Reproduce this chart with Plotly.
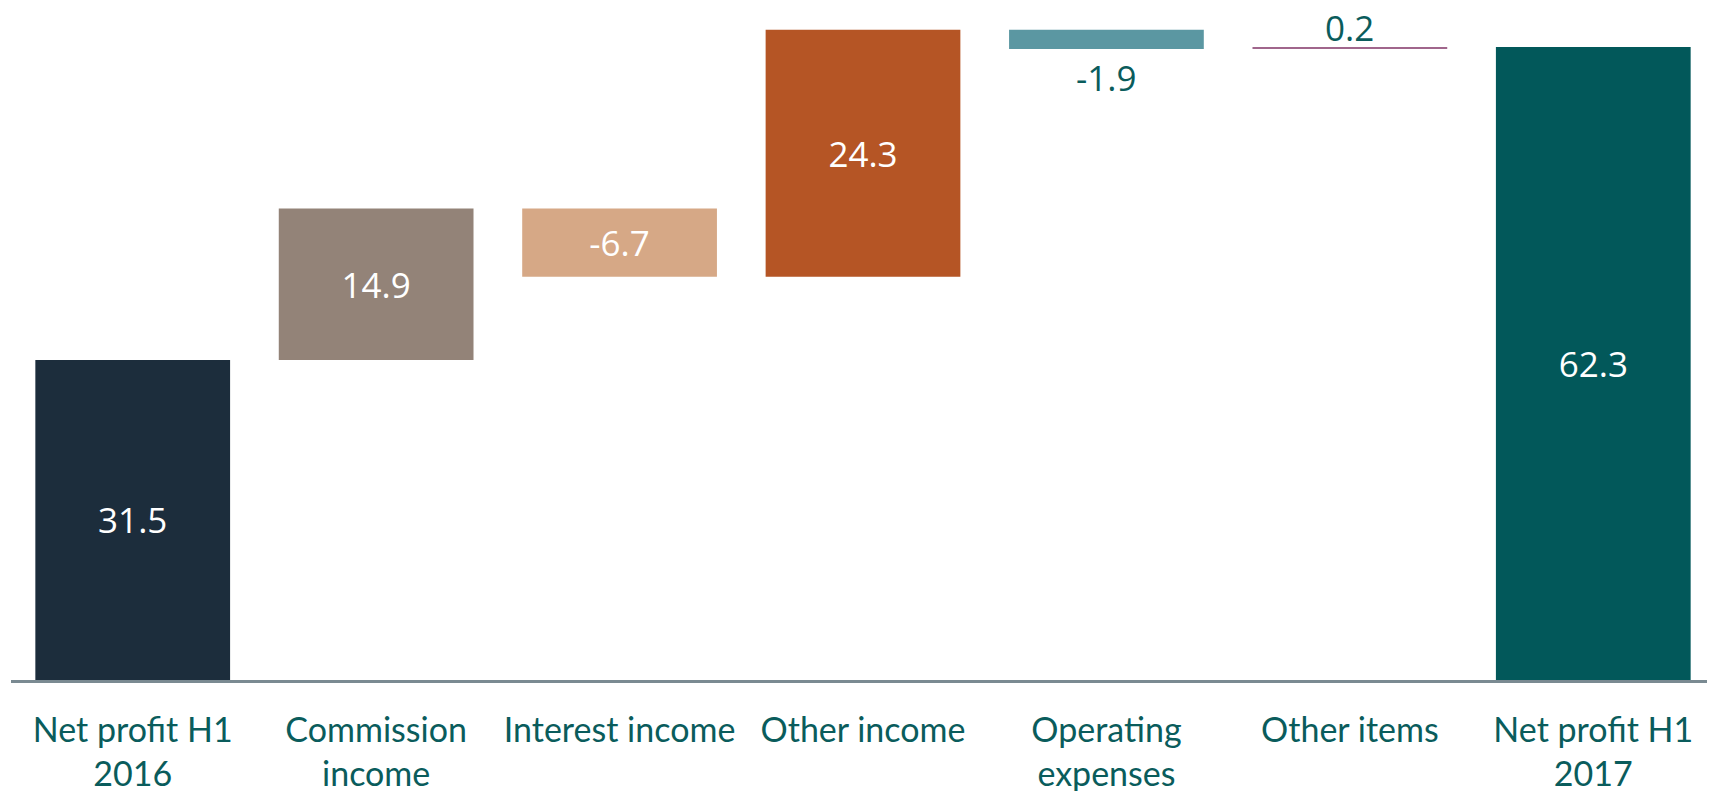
import plotly.graph_objects as go

categories = ["Net profit H1<br>2016", "Commission<br>income", "Interest income", "Other income",
              "Operating<br>expenses", "Other items", "Net profit H1<br>2017"]
values = [31.5, 14.9, -6.7, 24.3, -1.9, 0.2, 62.3]
is_total = [True, False, False, False, False, False, True]
labels = ["31.5", "14.9", "-6.7", "24.3", "-1.9", "0.2", "62.3"]
colors = ["#1c2d3c", "#938378", "#d6a886", "#b55525", "#5b97a2", "#a0668c", "#02585a"]
label_inside = [True, True, True, True, False, False, True]

bases, heights = [], []
running = 0.0
for v, tot in zip(values, is_total):
    if tot:
        bases.append(0.0)
        heights.append(v)
        running = v
    else:
        bases.append(running)
        heights.append(v)
        running += v

fig = go.Figure(go.Bar(
    x=categories, y=heights, base=bases,
    marker=dict(color=colors, line=dict(width=0)),
    text=[t if ins else "" for t, ins in zip(labels, label_inside)],
    textposition="inside",
    insidetextanchor="middle",
    insidetextfont=dict(color="white", size=35, family="Open Sans"),
    constraintext="none", cliponaxis=False,
    hoverinfo="skip",
))

# labels outside thin bars: placed at the bar's end, above for gains and below for losses
for cat, b, h, t, ins in zip(categories, bases, heights, labels, label_inside):
    if ins:
        continue
    end = b + h
    fig.add_annotation(
        x=cat, y=max(b, end) if h > 0 else min(b, end),
        text=t, showarrow=False, borderpad=0,
        yanchor="middle", yshift=20 if h > 0 else -28,
        font=dict(color="#0a5c5c", size=35, family="Open Sans"),
    )

fig.update_layout(
    width=1715, height=791,
    margin=dict(l=3, r=8, t=20, b=119),
    plot_bgcolor="white", paper_bgcolor="white",
    bargap=0.2, showlegend=False,
    font=dict(family="Lato", size=34, color="#0a5c5c"),
)
fig.update_xaxes(showline=True, linecolor="#7a8a92", linewidth=3, showgrid=False,
                 ticks="", ticklabelstandoff=18, tickfont=dict(size=34, color="#0a5c5c"))
fig.update_yaxes(visible=False, range=[0, 64.17], showgrid=False, zeroline=False)

fig.write_html("out.html")
